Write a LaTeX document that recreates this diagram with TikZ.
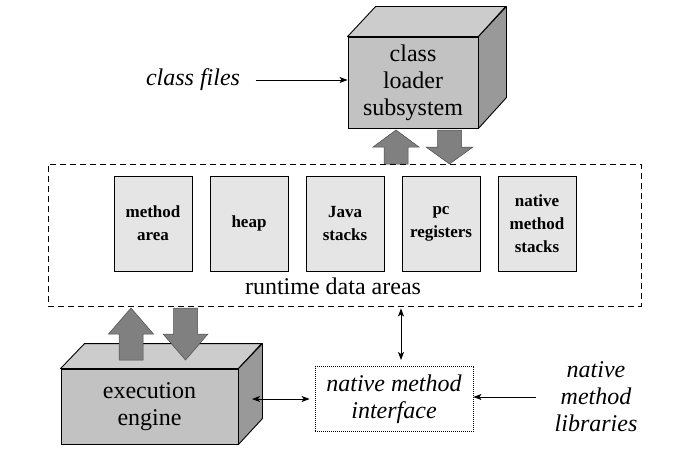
\documentclass[tikz,border=0pt]{standalone}
\usepackage{fontspec}
\setmainfont{Liberation Serif}
\usetikzlibrary{arrows.meta}
\definecolor{facefront}{gray}{0.76}
\definecolor{facetop}{gray}{0.80}
\definecolor{faceside}{gray}{0.60}
\definecolor{arrowfill}{gray}{0.50}
\definecolor{areafill}{gray}{0.90}

\begin{document}
\begin{tikzpicture}[x=1pt, y=-1pt,
    front/.style={draw, fill=facefront, line width=0.9pt, inner sep=0pt,
      font=\fontsize{24}{27}\selectfont, align=center},
    topface/.style={draw, fill=facetop, line width=0.9pt, line join=round},
    sideface/.style={draw, fill=faceside, line width=0.9pt, line join=round},
    blockarrow/.style={fill=arrowfill, draw=black!70, line width=0.5pt},
    area/.style={draw, fill=areafill, line width=0.9pt, inner sep=0pt,
      minimum width=78pt, minimum height=95pt, align=center,
      font=\fontsize{17}{23}\selectfont\bfseries},
    plain/.style={font=\fontsize{24}{27}\selectfont, align=center},
    ital/.style={font=\fontsize{24}{27}\selectfont\itshape, align=center},
    link/.style={-{Stealth[length=8pt, width=6pt, inset=2pt]}, line width=0.9pt},
    twoway/.style={{Stealth[length=8pt, width=6pt, inset=2pt]}-{Stealth[length=8pt, width=6pt, inset=2pt]}, line width=0.9pt}]
  \useasboundingbox (0,0) rectangle (687,468);

  % Class loader subsystem
  \node[front, minimum width=130pt, minimum height=91pt] (loader) at (413,82.5)
    {class\\loader\\subsystem};
  \draw[topface] (loader.north west) -- ++(28,-30) -- ++(130,0) -- (loader.north east) -- cycle;
  \draw[sideface] (loader.north east) -- ++(28,-30) -- ++(0,91) -- (loader.south east) -- cycle;

  % Class files input
  \node[ital] (files) at (193,80) {class files};
  \draw[link] ([xshift=12pt]files.east) -- (files.east -| loader.west);

  % Up and down arrows of the class loader
  \draw[blockarrow] (384,164) -- (384,147) -- (373,147) -- (396,130) -- (419,147)
    -- (408,147) -- (408,164) -- cycle;
  \draw[blockarrow] (437.5,130) -- (461.5,130) -- (461.5,147) -- (473,147)
    -- (449.5,164) -- (426,147) -- (437.5,147) -- cycle;

  % Runtime data areas
  \node[draw, dash pattern=on 6pt off 4pt, line width=0.9pt,
    minimum width=593pt, minimum height=142pt, inner sep=0pt] (rda) at (344.5,235) {};
  \node[area] (marea) at (153,223.5) {method\\area};
  \node[area] (heap) at (249,223.5) {heap};
  \node[area] (jstack) at (345,223.5) {Java\\stacks};
  \node[area] (pcreg) at (441,223.5) {pc\\registers};
  \node[area] (nstack) at (537,223.5) {native\\method\\stacks};
  \node[plain] (rdalabel) at (333,286) {runtime data areas};

  % Execution engine
  \node[front, minimum width=177pt, minimum height=75pt] (exec) at (149.5,406.5)
    {execution\\engine};
  \draw[topface] (exec.north west) -- ++(24,-25) -- ++(177,0) -- (exec.north east) -- cycle;
  \draw[sideface] (exec.north east) -- ++(24,-25) -- ++(0,75) -- (exec.south east) -- cycle;

  % Up and down arrows of the execution engine
  \draw[blockarrow] (119,360) -- (119,334) -- (108.5,334) -- (131,308) -- (153.5,334)
    -- (143,334) -- (143,360) -- cycle;
  \draw[blockarrow] (173.5,308) -- (197.5,308) -- (197.5,334) -- (208,334)
    -- (185.5,360) -- (163,334) -- (173.5,334) -- cycle;

  % Native method interface
  \node[ital, draw, dash pattern=on 1pt off 1pt, line width=0.8pt,
    minimum width=158pt, minimum height=65pt, inner sep=0pt] (nmi) at (394,399)
    {native method\\interface};
  \node[ital] (libs) at (596,397) {native\\method\\libraries};

  % Connectors
  \coordinate (execside) at (252,399);
  \coordinate (nmitop) at (401,360);
  \draw[twoway, shorten >=5pt] (execside) -- (nmi.west);
  \draw[twoway, shorten <=2pt] (nmitop |- rda.south) -- (nmitop);
  \draw[link] ([xshift=-15pt]libs.west) -- (libs.west -| nmi.east);
\end{tikzpicture}
\end{document}
